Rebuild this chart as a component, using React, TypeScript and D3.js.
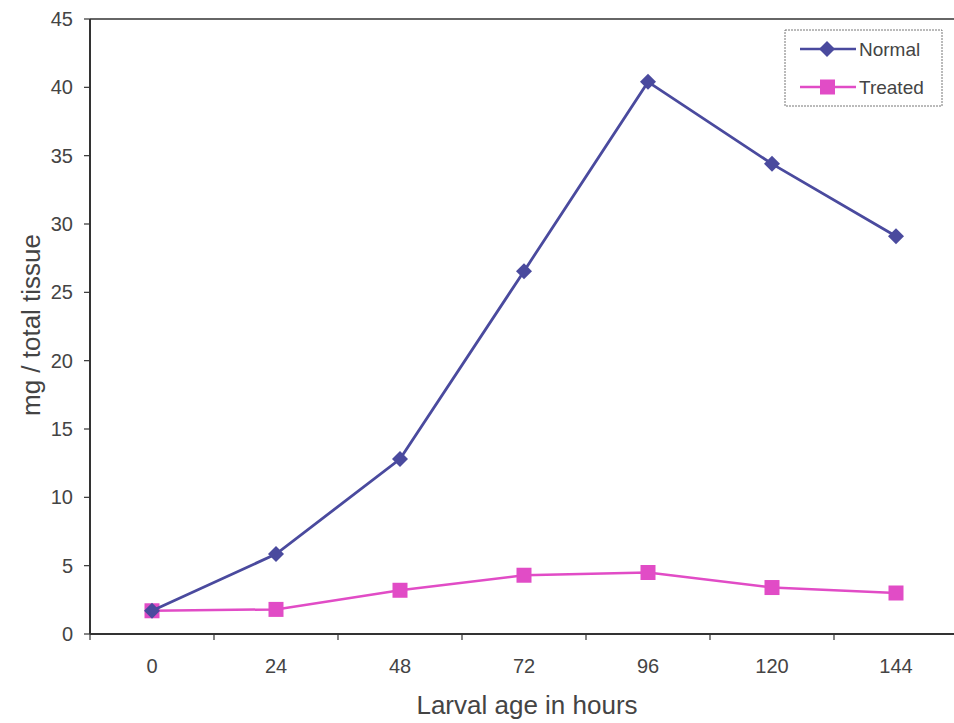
import React from "react";
import * as d3 from "d3";

const categories = ["0", "24", "48", "72", "96", "120", "144"];
const normalValues = [1.7, 5.85, 12.8, 26.55, 40.4, 34.4, 29.1];
const treatedValues = [1.7, 1.8, 3.2, 4.3, 4.5, 3.4, 3.0];
const yTicks = [0, 5, 10, 15, 20, 25, 30, 35, 40, 45];
const seriesNames = ["Normal", "Treated"];

const W = 954;
const H = 723;
const left = 90;
const right = 958;
const top = 19;
const bottom = 634;

const NORMAL = "#4a4a9e";
const TREATED = "#e14cc6";
const TEXT = "#444";
const AXIS = "#333";

export default function App() {
  const x = d3.scaleBand().domain(categories).range([left, right]).padding(0);
  const y = d3.scaleLinear().domain([0, 45]).range([bottom, top]);
  const cx = (c: string) => (x(c) as number) + x.bandwidth() / 2;
  const line = d3
    .line<number>()
    .x((_, i) => cx(categories[i]))
    .y((d) => y(d));
  const font = "Liberation Sans, Arial, sans-serif";
  const diamond = (px: number, py: number, r = 8) =>
    `M${px},${py - r}L${px + r},${py}L${px},${py + r}L${px - r},${py}Z`;

  return (
    <svg
      width={W}
      height={H}
      style={{ position: "absolute", left: 0, top: 0, background: "#fff" }}
      fontFamily={font}
    >
      <rect x={0} y={0} width={W} height={H} fill="#fff" />
      {/* plot frame */}
      <line x1={left} x2={right} y1={top} y2={top} stroke={AXIS} strokeWidth={1.5} />
      <line x1={left} x2={left} y1={top} y2={bottom} stroke={AXIS} strokeWidth={2} />
      <line x1={left} x2={right} y1={bottom} y2={bottom} stroke={AXIS} strokeWidth={2} />
      {/* y ticks */}
      {yTicks.map((t) => (
        <g key={t}>
          <line x1={left - 6} x2={left} y1={y(t)} y2={y(t)} stroke={AXIS} strokeWidth={1.2} />
          <text x={left - 17} y={y(t)} dy="0.35em" textAnchor="end" fontSize={20} fill={TEXT}>
            {t}
          </text>
        </g>
      ))}
      {/* x ticks */}
      {categories.map((c) => (
        <g key={c}>
          <line
            x1={x(c) as number}
            x2={x(c) as number}
            y1={bottom}
            y2={bottom + 6}
            stroke={AXIS}
            strokeWidth={1.2}
          />
          <text x={cx(c)} y={bottom + 39} textAnchor="middle" fontSize={20} fill={TEXT}>
            {c}
          </text>
        </g>
      ))}
      {/* axis titles */}
      <text x={527} y={714} textAnchor="middle" fontSize={26} fill={TEXT}>
        Larval age in hours
      </text>
      <text
        transform={`translate(40,${325}) rotate(-90)`}
        textAnchor="middle"
        fontSize={26}
        fill={TEXT}
      >
        mg / total tissue
      </text>
      {/* series */}
      <path d={line(treatedValues) as string} fill="none" stroke={TREATED} strokeWidth={2.5} />
      {treatedValues.map((v, i) => (
        <rect
          key={i}
          x={cx(categories[i]) - 7.5}
          y={y(v) - 7.5}
          width={15}
          height={15}
          fill={TREATED}
        />
      ))}
      <path d={line(normalValues) as string} fill="none" stroke={NORMAL} strokeWidth={2.8} />
      {normalValues.map((v, i) => (
        <path key={i} d={diamond(cx(categories[i]), y(v))} fill={NORMAL} />
      ))}
      {/* legend */}
      <rect x={785} y={30} width={157} height={76} fill="#fff" stroke="#777" strokeWidth={1} strokeDasharray="2,1" />
      {seriesNames.map((n, i) => {
        const ly = 49 + i * 38;
        const col = i === 0 ? NORMAL : TREATED;
        return (
          <g key={n}>
            <line x1={800} x2={856} y1={ly} y2={ly} stroke={col} strokeWidth={2.5} />
            {i === 0 ? (
              <path d={diamond(827, ly)} fill={col} />
            ) : (
              <rect x={820} y={ly - 7.5} width={15} height={15} fill={col} />
            )}
            <text x={859} y={ly} dy="0.35em" fontSize={19} fill={TEXT}>
              {n}
            </text>
          </g>
        );
      })}
    </svg>
  );
}
